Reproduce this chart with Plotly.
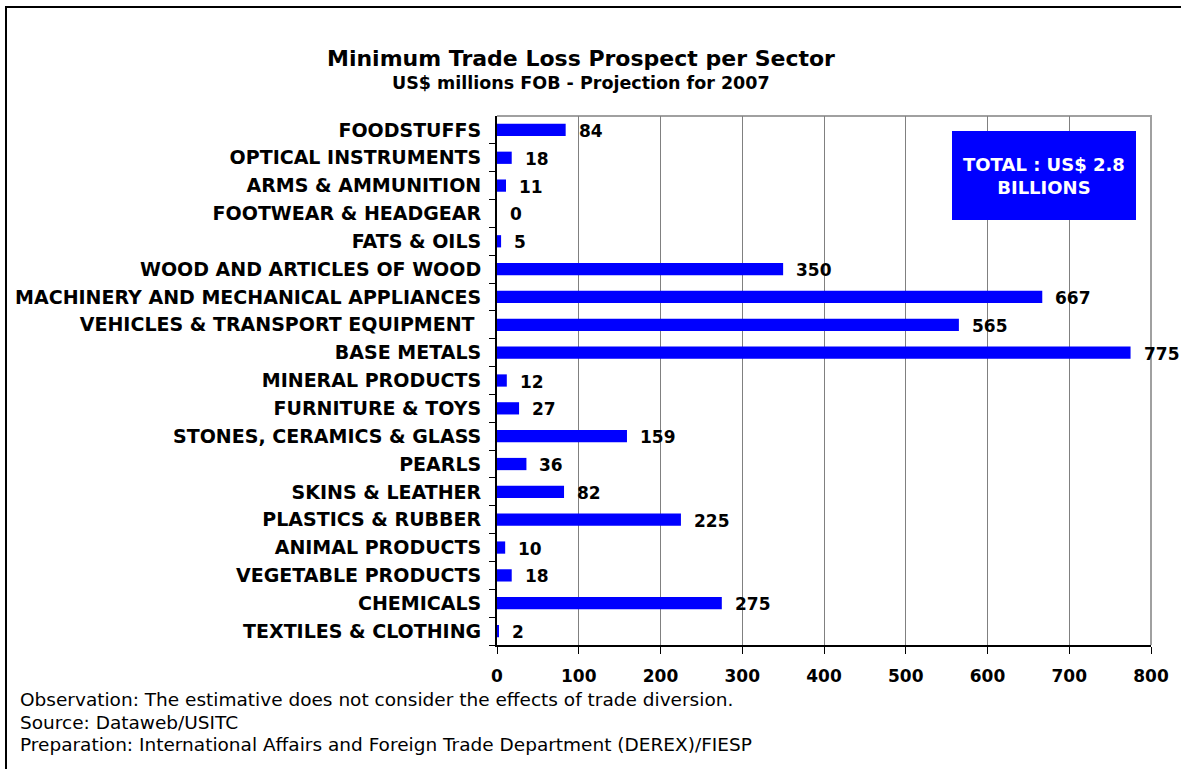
import plotly.graph_objects as go

# Sectors (top to bottom) and projected minimum trade loss, US$ millions FOB
sectors = [
    "FOODSTUFFS",
    "OPTICAL INSTRUMENTS",
    "ARMS & AMMUNITION",
    "FOOTWEAR & HEADGEAR",
    "FATS & OILS",
    "WOOD AND ARTICLES OF WOOD",
    "MACHINERY AND MECHANICAL APPLIANCES",
    "VEHICLES & TRANSPORT EQUIPMENT\u00a0",
    "BASE METALS",
    "MINERAL PRODUCTS",
    "FURNITURE & TOYS",
    "STONES, CERAMICS & GLASS",
    "PEARLS",
    "SKINS & LEATHER",
    "PLASTICS & RUBBER",
    "ANIMAL PRODUCTS",
    "VEGETABLE PRODUCTS",
    "CHEMICALS",
    "TEXTILES & CLOTHING",
]
losses = [84, 18, 11, 0, 5, 350, 667, 565, 775, 12, 27, 159, 36, 82, 225, 10, 18, 275, 2]
x_ticks = [0, 100, 200, 300, 400, 500, 600, 700, 800]

W, H = 1181, 769
L, R, T, B = 497, 1151, 116, 645
FONT = "DejaVu Sans, Verdana, sans-serif"
BLUE = "#0000FF"


def px(x):
    return (x - L) / (R - L)


def py(y):
    return (B - y) / (B - T)


fig = go.Figure(
    go.Bar(
        x=losses,
        y=sectors,
        orientation="h",
        marker=dict(color=BLUE, line=dict(width=0)),
        width=0.44,
        hoverinfo="x+y",
    )
)

# value labels at the end of each bar
for s, v in zip(sectors, losses):
    fig.add_annotation(
        x=v, y=s, xref="x", yref="y", text=f"<b>{v}</b>", showarrow=False,
        xanchor="left", yanchor="middle", xshift=11, yshift=-1,
        font=dict(family=FONT, size=17, color="black"),
    )

# titles
fig.add_annotation(
    x=px(581), y=py(58), xref="paper", yref="paper", showarrow=False,
    text="<b>Minimum Trade Loss Prospect per Sector</b>",
    font=dict(family=FONT, size=22, color="black"), xanchor="center", yanchor="middle",
)
fig.add_annotation(
    x=px(581), y=py(83), xref="paper", yref="paper", showarrow=False,
    text="<b>US$ millions FOB - Projection for 2007</b>",
    font=dict(family=FONT, size=17.5, color="black"), xanchor="center", yanchor="middle",
)

# notes below the chart
notes = [
    "Observation: The estimative does not consider the effects of trade diversion.",
    "Source: Dataweb/USITC",
    "Preparation: International Affairs and Foreign Trade Department (DEREX)/FIESP",
]
for i, n in enumerate(notes):
    fig.add_annotation(
        x=px(18), y=py(700 + 22 * i), xref="paper", yref="paper", showarrow=False,
        text=n, xanchor="left", yanchor="middle",
        font=dict(family=FONT, size=18.5, color="black"),
    )

# total box
fig.add_shape(
    type="rect", xref="paper", yref="paper",
    x0=px(952), x1=px(1136), y0=py(220), y1=py(131),
    fillcolor=BLUE, line=dict(width=0), layer="above",
)
fig.add_annotation(
    x=px(1044), y=py(176), xref="paper", yref="paper", showarrow=False,
    text="<b>TOTAL : US$ 2.8<br>BILLIONS</b>", align="center",
    xanchor="center", yanchor="middle",
    font=dict(family=FONT, size=18, color="white"),
)

# outer frame: left and top edges
fig.add_shape(
    type="path", xref="paper", yref="paper",
    path=f"M {px(6)} {py(800)} L {px(6)} {py(7)} L {px(1250)} {py(7)}",
    line=dict(color="black", width=2), layer="above",
)
# plot-area frame (top and right edges)
fig.add_shape(
    type="path", xref="paper", yref="paper",
    path="M 0 1 L 1 1 L 1 0",
    line=dict(color="#A0A0A0", width=2), layer="below",
)

fig.update_layout(
    width=W, height=H,
    margin=dict(l=L, r=W - R, t=T, b=H - B, pad=0),
    paper_bgcolor="white", plot_bgcolor="white",
    showlegend=False,
    bargap=0.56,
    font=dict(family=FONT, size=16, color="black"),
)
fig.update_xaxes(
    range=[0, 800], tickvals=x_ticks, ticktext=[f"<b>{t}</b>" for t in x_ticks],
    showgrid=True, gridcolor="#808080", gridwidth=1,
    showline=True, linecolor="black", linewidth=2,
    ticks="outside", ticklen=7, tickcolor="black", tickwidth=1,
    ticklabelstandoff=8,
    tickfont=dict(family=FONT, size=17, color="black"),
    zeroline=False, fixedrange=True,
)
fig.update_yaxes(
    categoryorder="array", categoryarray=sectors[::-1],
    autorange=False, range=[-0.5, len(sectors) - 0.5],
    ticktext=[f"<b>{s}</b>" for s in sectors], tickvals=sectors,
    showline=True, linecolor="black", linewidth=2,
    ticks="outside", tickson="boundaries", ticklen=6, tickcolor="black", tickwidth=1,
    ticklabelstandoff=10,
    tickfont=dict(family=FONT, size=19, color="black"),
    showgrid=False, fixedrange=True,
)

fig.write_html("out.html")
